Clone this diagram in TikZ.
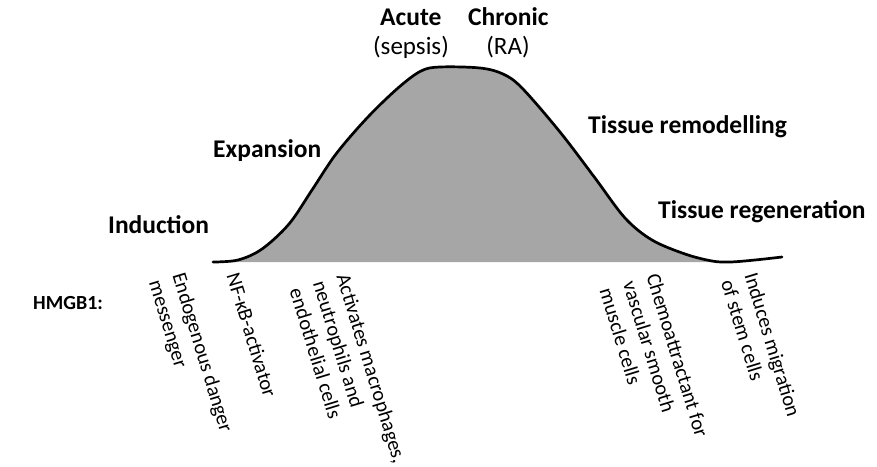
\documentclass[tikz,border=0pt]{standalone}
\usepackage{fontspec}
\setmainfont{Carlito}
\begin{document}
\begin{tikzpicture}[x=1pt,y=-1pt,
  lbl/.style={inner sep=0pt, anchor=base west, font=\fontsize{25.5}{30}\selectfont\bfseries},
  sub/.style={inner sep=0pt, anchor=base, font=\fontsize{25}{30}\selectfont},
  rot/.style={inner sep=0pt, anchor=north west, rotate=-73, align=left, font=\fontsize{20.5}{24.5}\selectfont}]
\useasboundingbox (0,0) rectangle (877,466);
\def\curvepts{(213,262) (238,260) (262,249) (289,224) (312,190) (336,154) (367,118) (398,88) (421,71) (440,67) (480,68) (503,74) (522,88) (560,132) (595,178) (625,218) (652,240) (685,254) (712,261) (730,262) (755,260) (782,257)}
\begin{scope}
  \clip (0,0) rectangle (722,262);
  \fill[fill={rgb,255:red,166;green,166;blue,166}] plot[smooth, tension=0.55] coordinates {\curvepts} -- (782,262) -- (213,262) -- cycle;
\end{scope}
\draw[line width=2.7pt, line cap=round, line join=round] plot[smooth, tension=0.55] coordinates {\curvepts};
\node[lbl] (acute) at (380,25) {Acute};
\node[lbl] (chronic) at (468,25) {Chronic};
\node[sub] (sepsis) at (411,54) {(sepsis)};
\node[sub] (ra) at (508,54) {(RA)};
\node[lbl] (expansion) at (213,157) {Expansion};
\node[lbl] (induction) at (108,233) {Induction};
\node[lbl] (remod) at (588,133) {Tissue remodelling};
\node[lbl] (regen) at (658,218) {Tissue regeneration};
\node[lbl, font=\fontsize{20}{24}\selectfont\bfseries] (hmgb) at (33,309) {HMGB1:};
\node[rot] (t1) at (186,271) {Endogenous danger\\messenger};
\node[rot] (t2) at (240,271) {NF-κB-activator};
\node[rot] (t3) at (350,272) {Activates macrophages,\\neutrophils and\\endothelial cells};
\node[rot] (t4) at (660,272) {Chemoattractant for\\vascular smooth\\muscle cells};
\node[rot] (t5) at (758,271) {Induces migration\\of stem cells};
\end{tikzpicture}
\end{document}
